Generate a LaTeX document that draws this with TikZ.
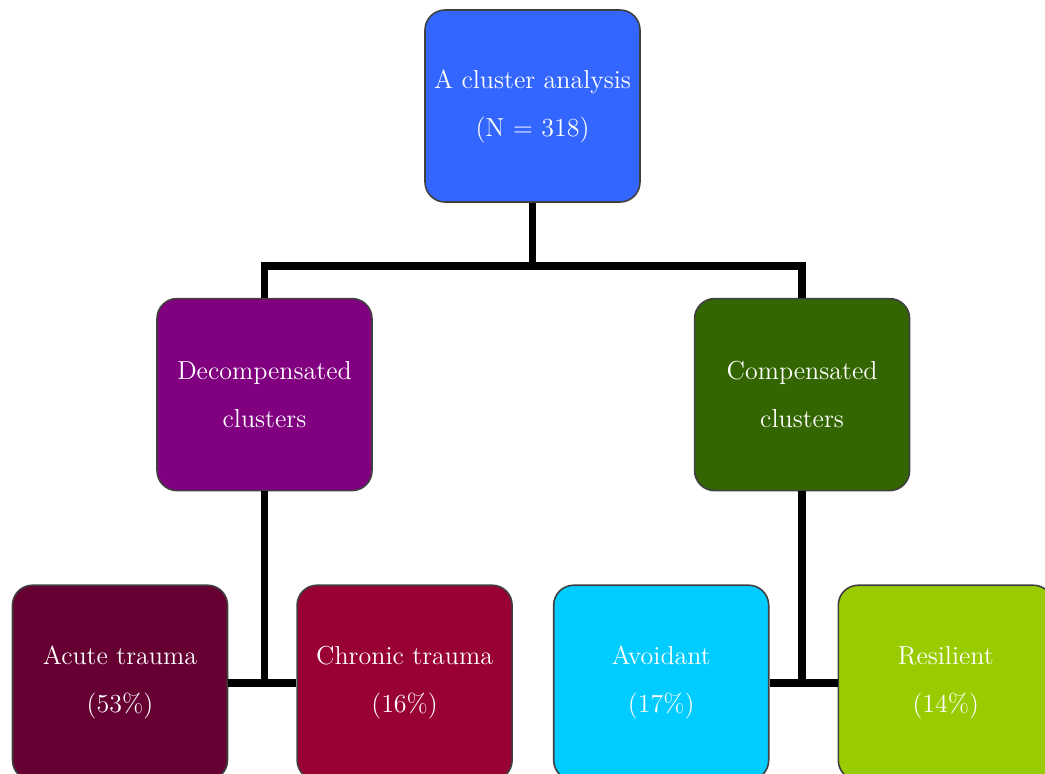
\documentclass[tikz,border=0pt]{standalone}
\usepackage{tikz}
\usetikzlibrary{positioning,calc}
\usepackage{xcolor}
\definecolor{clblue}{RGB}{51,102,255}
\definecolor{clpurple}{RGB}{128,0,128}
\definecolor{clgreen}{RGB}{51,102,0}
\definecolor{clwine}{RGB}{102,0,51}
\definecolor{clred}{RGB}{153,0,51}
\definecolor{clcyan}{RGB}{0,204,255}
\definecolor{cllime}{RGB}{153,204,0}
\tikzstyle{clusterbox} = [rectangle, rounded corners=10pt, minimum width=107.5pt, minimum height=96pt, text centered, align=center, draw=black!75, line width=0.8pt, text=white, font=\fontsize{13}{24}\selectfont]
\tikzstyle{link} = [line width=3.8pt, color=black]

\begin{document}
\begin{tikzpicture}
\clip (0,0) rectangle (522.5pt,-386.5pt);
\useasboundingbox (0,0) rectangle (522.5pt,-386.5pt);
\node[clusterbox, fill=clblue] (all) at (266.25pt,-53pt) {A cluster analysis\\(N = 318)};

\node[clusterbox, fill=clpurple, below=47.5pt of all, xshift=-134pt] (decomp) {Decompensated\\clusters};
\node[clusterbox, fill=clgreen, right=160.5pt of decomp] (comp) {Compensated\\clusters};

\node[clusterbox, fill=clwine, minimum height=97.5pt, below=46.5pt of decomp, xshift=-72.25pt] (acute) {Acute trauma\\(53\%)};
\node[clusterbox, fill=clred, minimum height=97.5pt, right=34pt of acute] (chronic) {Chronic trauma\\(16\%)};
\node[clusterbox, fill=clcyan, minimum height=97.5pt, right=20pt of chronic] (avoid) {Avoidant\\(17\%)};
\node[clusterbox, fill=cllime, minimum height=97.5pt, right=34pt of avoid] (resil) {Resilient\\(14\%)};

% tree lines
\coordinate (fork) at ($(all.south)+(0,-31.5pt)$);
\draw[link] (all.south) -- (fork);
\draw[link] (decomp.north) |- (fork) -| (comp.north);
\draw[link] (decomp.south) -- (decomp.south |- acute.east);
\draw[link] (acute.east) -- (chronic.west);
\draw[link] (comp.south) -- (comp.south |- avoid.east);
\draw[link] (avoid.east) -- (resil.west);
\end{tikzpicture}
\end{document}
